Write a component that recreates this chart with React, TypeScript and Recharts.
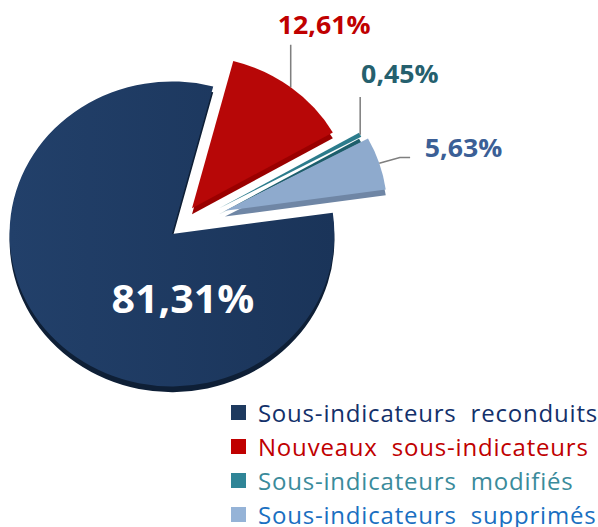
import { PieChart, Pie, Cell, Legend } from "recharts";

const NAMES = [
  "Sous-indicateurs  reconduits",
  "Nouveaux  sous-indicateurs",
  "Sous-indicateurs  modifiés",
  "Sous-indicateurs  supprimés",
];
const VALUES = [81.31, 12.61, 0.45, 5.63];
const FILLS = ["url(#navyFace)", "#b70707", "#2c7c8c", "#8eaacd"];
const DEPTH = ["#0e1f36", "#9a0000", "#1d5e6b", "#6f86a5"];
const LABEL_COLORS = ["#ffffff", "#c00000", "#25606e", "#3b5f96"];
const MARKERS = ["#1e3a5f", "#c00000", "#2f8597", "#95b3d7"];
const LEGEND_TEXT = ["#13306a", "#c00000", "#3a8b9b", "#1a6fc1"];

const data = NAMES.map((name, i) => ({ name, value: VALUES[i] }));

// the svg gets squashed a bit around (173,232) to look like a tilted pie
const SX = 1.028;
const SY = 0.965;
// face centre of each slice (before squash), small ones pulled out
const CENTERS = [[172, 234], [191.5, 207.5], [217, 208], [223.5, 210]];
const R = 158;
const DEPTH_PX = 6;
const FONT = "'Open Sans', sans-serif";
const RAD = Math.PI / 180;

const fmt = (v: number) => v.toFixed(2).replace(".", ",") + "%";

function makeLabel(k: number) {
  return (p: any) => {
    if (p.index !== k) return null;
    const ax = p.cx + p.outerRadius * Math.cos(-p.midAngle * RAD);
    const ay = p.cy + p.outerRadius * Math.sin(-p.midAngle * RAD);
    const txt = fmt(p.value);
    const common = { fontFamily: FONT, fontWeight: 700, fill: LABEL_COLORS[k] };
    if (k === 0) {
      return (
        <text x={p.cx + 10.7} y={p.cy + 82} textAnchor="middle" fontSize={40} {...common}>
          {txt}
        </text>
      );
    }
    if (k === 1) {
      return (
        <g>
          <line x1={ax} y1={ay} x2={ax} y2={38} stroke="#7f7f7f" strokeWidth={1.5} />
          <text x={320} y={27} textAnchor="middle" fontSize={26} {...common}>{txt}</text>
        </g>
      );
    }
    if (k === 2) {
      return (
        <g>
          <line x1={ax} y1={ay} x2={ax} y2={92} stroke="#7f7f7f" strokeWidth={1.5} />
          <text x={356} y={77.6} textAnchor="start" fontSize={26} {...common}>{txt}</text>
        </g>
      );
    }
    return (
      <g>
        <polyline points={`${ax},${ay} ${ax + 20},${ay - 6} ${ax + 30},${ay - 6}`} fill="none" stroke="#7f7f7f" strokeWidth={1.5} />
        <text x={418} y={154.3} textAnchor="start" fontSize={26} {...common}>{txt}</text>
      </g>
    );
  };
}

function LegendBox() {
  return (
    <div style={{ fontFamily: FONT, fontSize: 24, letterSpacing: 0.8 }}>
      {NAMES.map((n, i) => (
        <div key={n} style={{ display: "flex", alignItems: "center", height: 34 }}>
          <span style={{ width: 15, height: 15, background: MARKERS[i], marginRight: 12, display: "inline-block" }} />
          <span style={{ color: LEGEND_TEXT[i], whiteSpace: "pre" }}>{n}</span>
        </div>
      ))}
    </div>
  );
}

export default function App() {
  return (
    <div style={{ position: "absolute", left: 0, top: 0, width: 598, height: 527, background: "#fff", overflow: "hidden" }}>
      <style>{`.recharts-surface{transform-origin:173px 232px;transform:scale(${SX},${SY});}`}</style>
      <PieChart width={598} height={527} margin={{ top: 0, right: 0, bottom: 0, left: 0 }}>
        <defs>
          <linearGradient id="navyFace" x1="0" y1="0" x2="1" y2="0">
            <stop offset="0%" stopColor="#22406a" />
            <stop offset="100%" stopColor="#1a3459" />
          </linearGradient>
        </defs>
        {CENTERS.map(([x, y], k) => (
          <Pie
            key={"d" + k}
            data={data}
            dataKey="value"
            cx={x}
            cy={y + DEPTH_PX}
            outerRadius={R}
            startAngle={8}
            endAngle={-352}
            stroke="none"
            legendType="none"
            isAnimationActive={false}
          >
            {data.map((_, i) => (
              <Cell key={i} fill={i === k ? DEPTH[i] : "transparent"} />
            ))}
          </Pie>
        ))}
        {CENTERS.map(([x, y], k) => (
          <Pie
            key={"f" + k}
            data={data}
            dataKey="value"
            cx={x}
            cy={y}
            outerRadius={R}
            startAngle={8}
            endAngle={-352}
            stroke="none"
            legendType="none"
            label={makeLabel(k)}
            labelLine={false}
            isAnimationActive={false}
          >
            {data.map((_, i) => (
              <Cell key={i} fill={i === k ? FILLS[i] : "transparent"} />
            ))}
          </Pie>
        ))}
        <Legend
          content={() => <LegendBox />}
          wrapperStyle={{ position: "absolute", left: 231, top: 395, width: 367, bottom: "auto" }}
        />
      </PieChart>
    </div>
  );
}
